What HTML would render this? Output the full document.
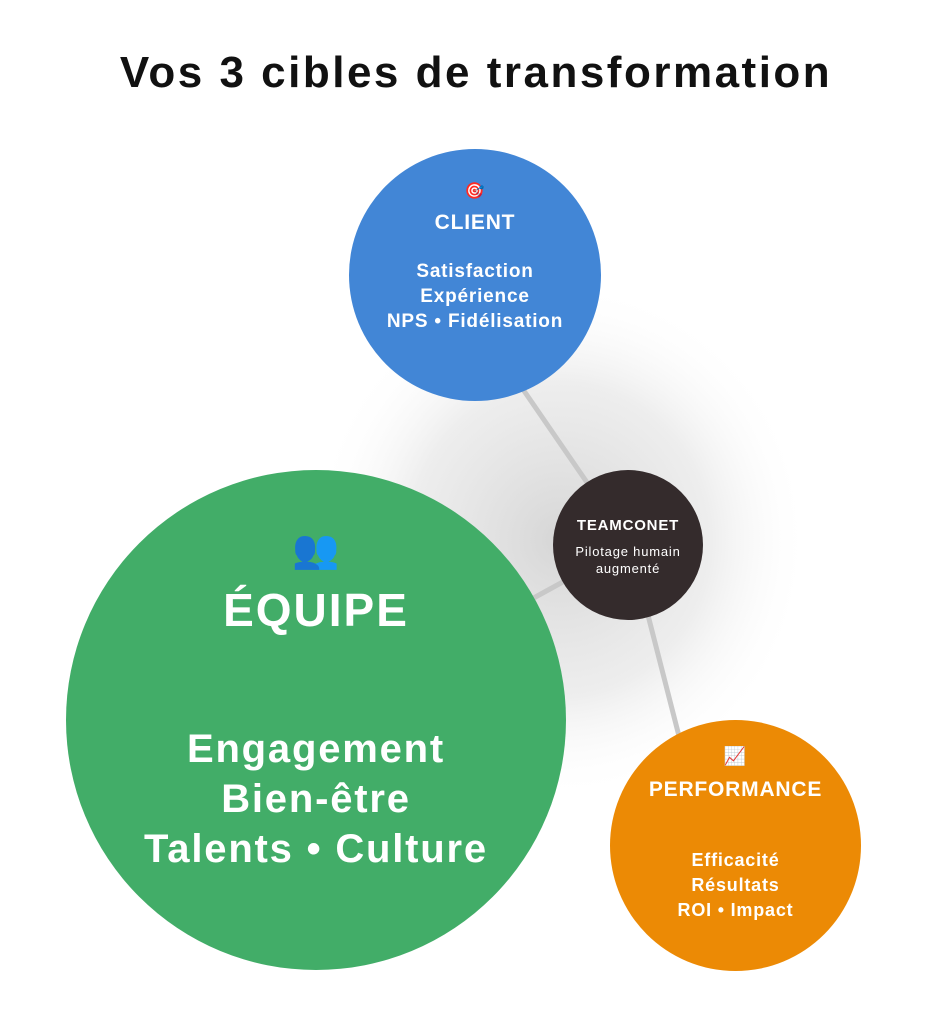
<!DOCTYPE html>
<html><head><meta charset="utf-8"><style>
body{margin:0;width:952px;height:1024px;background:#fff;position:relative;overflow:hidden;font-family:"Liberation Sans",sans-serif;color:#fff}
.t{position:absolute;left:0;width:952px;top:48px;text-align:center;color:#111;font-size:44px;font-weight:bold;letter-spacing:2.5px}
.c{position:absolute;border-radius:50%;text-align:center;box-sizing:border-box}
.c div{position:absolute;left:0;width:100%;text-align:center;letter-spacing:0.8px}
</style></head><body>
<div class="t">Vos 3 cibles de transformation</div>
<svg width="952" height="1024" style="position:absolute;left:0;top:0">
<defs><radialGradient id="g"><stop offset="0" stop-color="#d6d6d6"/><stop offset="0.6" stop-color="#e6e6e6" stop-opacity="0.7"/><stop offset="1" stop-color="#fff" stop-opacity="0"/></radialGradient></defs>
<ellipse cx="560" cy="540" rx="250" ry="260" fill="url(#g)"/>
<g stroke="#c8c8c8" stroke-width="5" stroke-linecap="round">
<line x1="520" y1="385" x2="630" y2="545"/><line x1="630" y1="545" x2="680" y2="740"/><line x1="630" y1="545" x2="530" y2="600"/>
</g>
</svg>
<div class="c" style="left:349px;top:149px;width:252px;height:252px;background:#4286d6">
<div style="top:32px;font-size:16px">🎯</div>
<div style="top:62px;font-size:21px;font-weight:bold">CLIENT</div>
<div style="top:110px;font-size:19px;font-weight:bold;line-height:25px">Satisfaction<br>Expérience<br>NPS • Fidélisation</div>
</div>
<div class="c" style="left:66px;top:470px;width:500px;height:500px;background:#42ad68">
<div style="top:58px;font-size:38px">👥</div>
<div style="top:113px;font-size:46px;font-weight:bold;letter-spacing:2px">ÉQUIPE</div>
<div style="top:254px;font-size:40px;font-weight:bold;line-height:50px;letter-spacing:1.8px">Engagement<br>Bien-être<br>Talents • Culture</div>
</div>
<div class="c" style="left:553px;top:470px;width:150px;height:150px;background:#342b2c">
<div style="top:47px;font-size:15px;font-weight:bold">TEAMCONET</div>
<div style="top:73px;font-size:13px;line-height:17px">Pilotage humain<br>augmenté</div>
</div>
<div class="c" style="left:610px;top:720px;width:251px;height:251px;background:#ec8a05">
<div style="top:26px;font-size:18px">📈</div>
<div style="top:58px;font-size:21px;font-weight:bold">PERFORMANCE</div>
<div style="top:128px;font-size:18px;font-weight:bold;line-height:25px">Efficacité<br>Résultats<br>ROI • Impact</div>
</div>
</body></html>
